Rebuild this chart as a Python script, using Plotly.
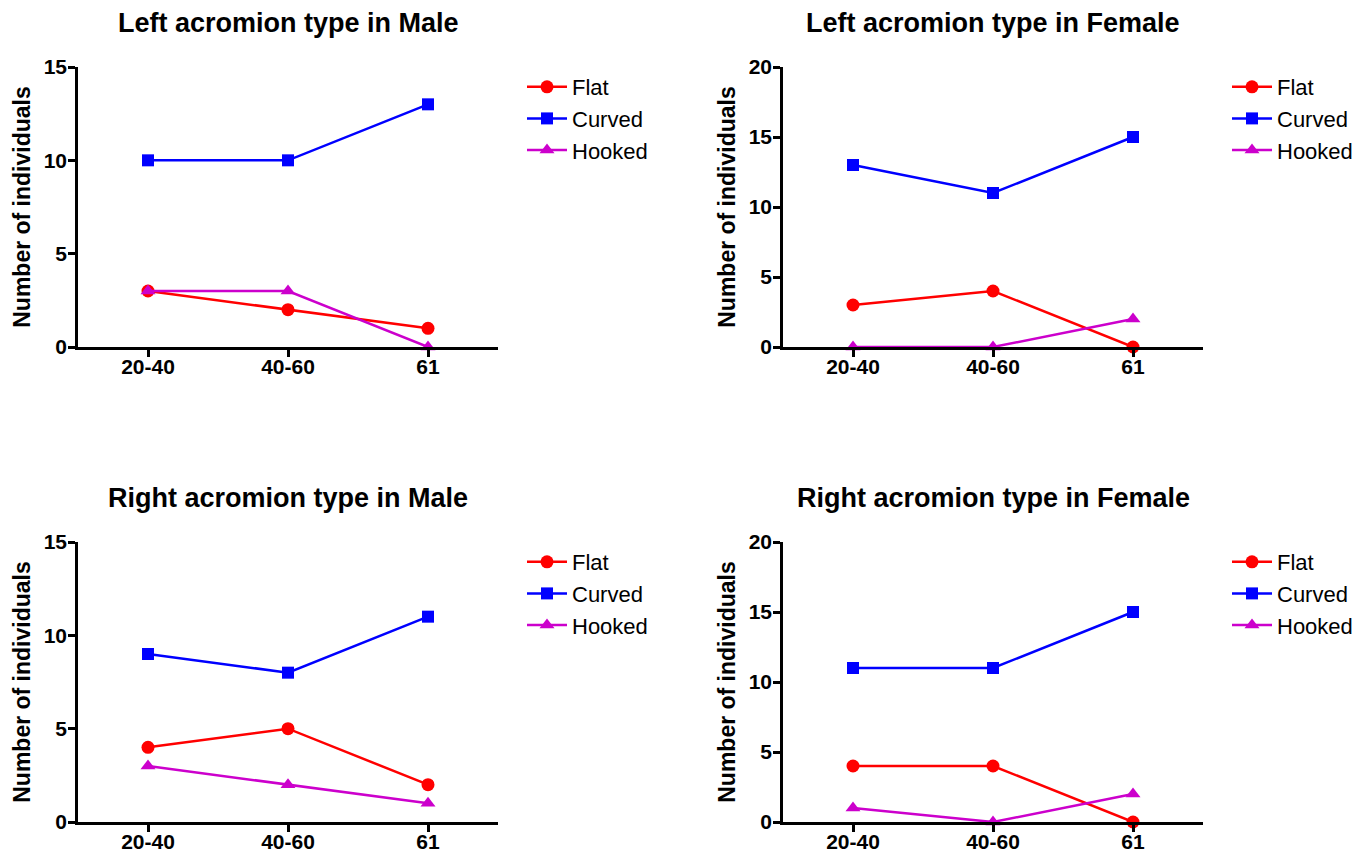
import plotly.graph_objects as go

categories = ["20-40", "40-60", "61"]
series_names = ["Flat", "Curved", "Hooked"]

left_male_flat = [3, 2, 1]
left_male_curved = [10, 10, 13]
left_male_hooked = [3, 3, 0]

left_female_flat = [3, 4, 0]
left_female_curved = [13, 11, 15]
left_female_hooked = [0, 0, 2]

right_male_flat = [4, 5, 2]
right_male_curved = [9, 8, 11]
right_male_hooked = [3, 2, 1]

right_female_flat = [4, 4, 0]
right_female_curved = [11, 11, 15]
right_female_hooked = [1, 0, 2]

panel_titles = ["Left acromion type in Male", "Left acromion type in Female",
                "Right acromion type in Male", "Right acromion type in Female"]
y_max = [15, 20, 15, 20]
y_title = "Number of individuals"

panels = [
    (left_male_flat, left_male_curved, left_male_hooked),
    (left_female_flat, left_female_curved, left_female_hooked),
    (right_male_flat, right_male_curved, right_male_hooked),
    (right_female_flat, right_female_curved, right_female_hooked),
]

W, H = 1371, 852
colors = ["#FF0000", "#0000FF", "#CC00CC"]
symbols = ["circle", "square", "triangle-up"]
msizes = [13, 12, 13]
FONT = "Arial, 'Liberation Sans', sans-serif"

# pixel layout of each panel: (x_left, x_right, y_top, y_bottom)
boxes = [(78, 498, 67, 347), (783, 1203, 67, 347),
         (78, 498, 542, 822), (783, 1203, 542, 822)]
legend_pos = [(522, 66), (1227, 66), (522, 541), (1227, 541)]

fig = go.Figure()
layout = dict(width=W, height=H, autosize=False,
              margin=dict(l=0, r=0, t=0, b=0, autoexpand=False),
              paper_bgcolor="white", plot_bgcolor="white",
              font=dict(family=FONT, color="black"))
annotations = []

for i, (vals, box, ymx, title) in enumerate(zip(panels, boxes, y_max, panel_titles)):
    n = i + 1
    xa = "x" if n == 1 else f"x{n}"
    ya = "y" if n == 1 else f"y{n}"
    lg = "legend" if n == 1 else f"legend{n}"
    for s, (name, v) in enumerate(zip(series_names, vals)):
        fig.add_trace(go.Scatter(
            x=categories, y=v, name=name, mode="lines+markers",
            line=dict(color=colors[s], width=2.5),
            marker=dict(symbol=symbols[s], size=msizes[s], color=colors[s]),
            xaxis=xa, yaxis=ya, legend=lg, cliponaxis=False))
    x0, x1, yt, yb = box
    layout[f"xaxis{'' if n == 1 else n}"] = dict(
        domain=[x0 / W, x1 / W], anchor=ya, type="category", automargin=False,
        range=[-0.5, 2.5], showline=True, linecolor="black", linewidth=2.5,
        ticks="outside", ticklen=7, tickwidth=2.5, tickcolor="black",
        ticklabelstandoff=-8,
        showgrid=False, zeroline=False,
        tickfont=dict(size=21, family=FONT, color="black", weight="bold"))
    layout[f"yaxis{'' if n == 1 else n}"] = dict(
        domain=[1 - yb / H, 1 - yt / H], anchor=xa, automargin=False,
        range=[0, ymx], dtick=5, showline=True, linecolor="black", linewidth=2.5,
        ticks="outside", ticklen=7, tickwidth=2.5, tickcolor="black",
        ticklabelstandoff=-3,
        showgrid=False, zeroline=False,
        tickfont=dict(size=21, family=FONT, color="black", weight="bold"),
        title=dict(text=y_title, standoff=7,
                   font=dict(size=23, family=FONT, color="black", weight="bold")))
    lx, ly = legend_pos[i]
    layout[lg] = dict(x=lx / W, y=1 - ly / H, xanchor="left", yanchor="top",
                      bgcolor="rgba(0,0,0,0)", itemwidth=40,
                      font=dict(size=22, family=FONT, color="black"),
                      tracegroupgap=0)
    annotations.append(dict(
        text=title, xref="paper", yref="paper",
        x=((x0 + x1) / 2) / W, y=1 - (yt - 44) / H,
        xanchor="center", yanchor="middle", showarrow=False,
        font=dict(size=27, family=FONT, color="black", weight="bold")))

layout["annotations"] = annotations
fig.update_layout(**layout)
fig.write_html("out.html", config={"displayModeBar": False},
               post_script="document.body.style.margin='0';document.body.style.overflow='hidden';")
